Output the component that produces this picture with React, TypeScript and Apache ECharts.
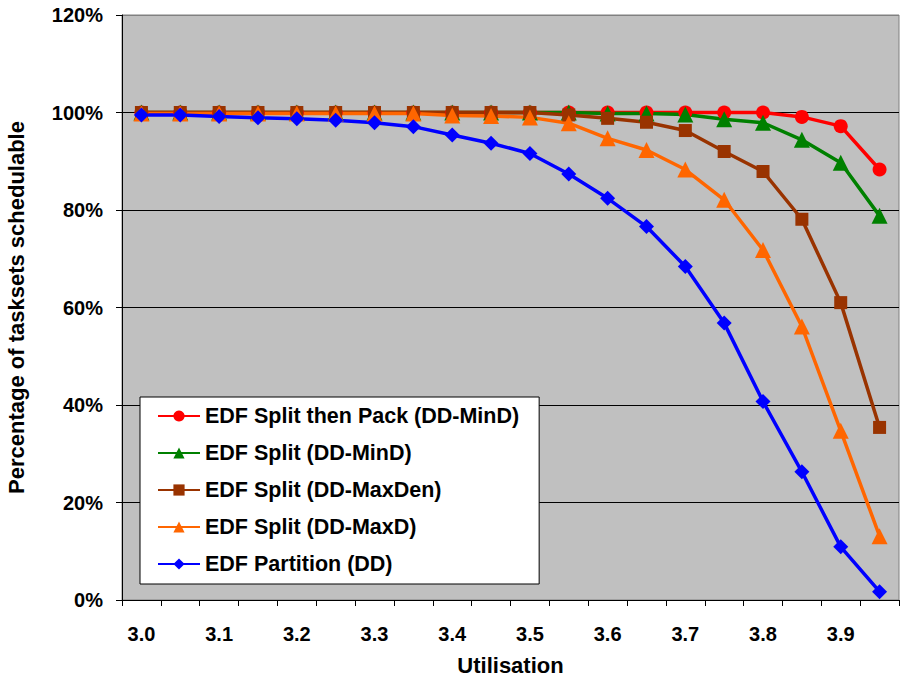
import React, { useEffect, useRef } from "react";
import * as echarts from "echarts";

const categories = ["3.00","3.05","3.10","3.15","3.20","3.25","3.30","3.35","3.40","3.45","3.50","3.55","3.60","3.65","3.70","3.75","3.80","3.85","3.90","3.95"];
const splitThenPack = [100,100,100,100,100,100,100,100,100,100,100,100,100,100,100,100,100,99.1,97.2,88.3];
const splitMinD = [100,100,100,100,100,100,100,100,100,100,100,100,99.8,99.8,99.6,98.6,97.9,94.4,89.7,78.8];
const splitMaxDen = [100,100,100,100,100,100,100,100,100,100,100,99.5,98.8,98.0,96.3,92.0,87.9,78.1,61.0,35.4];
const splitMaxD = [99.8,99.8,99.8,99.8,99.8,99.8,99.8,99.8,99.4,99.3,99.0,97.8,94.7,92.3,88.3,82.1,71.8,56.1,34.7,13.1];
const partition = [99.5,99.5,99.2,98.9,98.7,98.4,97.9,97.1,95.4,93.7,91.6,87.4,82.4,76.6,68.4,56.8,40.7,26.3,10.9,1.7];

const seriesNames = [
  "EDF Split then Pack (DD-MinD)",
  "EDF Split (DD-MinD)",
  "EDF Split (DD-MaxDen)",
  "EDF Split (DD-MaxD)",
  "EDF Partition (DD)",
];

export default function App() {
  const ref = useRef<HTMLDivElement>(null);
  useEffect(() => {
    if (!ref.current) return;
    const chart = echarts.init(ref.current, null, { renderer: "svg" });
    const font = "'Liberation Sans', Arial, sans-serif";
    const mk = (name: string, data: number[], color: string, symbol: string, size: number) => ({
      name,
      type: "line",
      data,
      symbol,
      symbolSize: size,
      showAllSymbol: true,
      lineStyle: { color, width: 3.5 },
      itemStyle: { color },
    });
    chart.setOption({
      animation: false,
      backgroundColor: "#ffffff",
      grid: {
        left: 122, right: 2, top: 15, bottom: 82,
        show: true, backgroundColor: "#c0c0c0", borderWidth: 1, borderColor: "#808080",
        containLabel: false, outerBoundsMode: "none",
      },
      legend: {
        orient: "vertical",
        left: 140,
        top: 397,
        backgroundColor: "#ffffff",
        borderColor: "#000000",
        borderWidth: 1,
        borderRadius: 0,
        padding: [8, 20, 9, 17],
        itemGap: 15,
        itemWidth: 42,
        itemHeight: 14,
        textStyle: { fontFamily: font, fontWeight: "bold", fontSize: 21.5, color: "#000" },
        data: seriesNames,
      },
      xAxis: {
        type: "category",
        data: categories,
        boundaryGap: true,
        name: "Utilisation",
        nameLocation: "middle",
        nameGap: 54,
        nameTextStyle: { fontFamily: font, fontWeight: "bold", fontSize: 22, color: "#000" },
        axisLine: { lineStyle: { color: "#000", width: 1 } },
        axisTick: { show: true, interval: 0, length: 6, lineStyle: { color: "#000" } },
        axisLabel: {
          interval: 1,
          margin: 24,
          fontFamily: font,
          fontWeight: "bold",
          fontSize: 20,
          color: "#000",
          formatter: (v: string) => Number(v).toFixed(1),
        },
        splitLine: { show: false },
      },
      yAxis: {
        type: "value",
        min: 0,
        max: 120,
        interval: 20,
        name: "Percentage of tasksets schedulable",
        nameLocation: "middle",
        nameGap: 95,
        nameTextStyle: { fontFamily: font, fontWeight: "bold", fontSize: 22, color: "#000" },
        axisLine: { show: true, lineStyle: { color: "#000", width: 1 } },
        axisTick: { show: true, length: 6, lineStyle: { color: "#000" } },
        axisLabel: {
          margin: 19,
          fontFamily: font,
          fontWeight: "bold",
          fontSize: 20,
          color: "#000",
          formatter: "{value}%",
        },
        splitLine: {
          show: true,
          lineStyle: { color: ["#000", "#000", "#000", "#000", "#000", "#000", "#808080"], width: 1 },
        },
      },
      series: [
        mk(seriesNames[0], splitThenPack, "#ff0000", "circle", 14),
        mk(seriesNames[1], splitMinD, "#008000", "triangle", 16),
        mk(seriesNames[2], splitMaxDen, "#993300", "rect", 13),
        mk(seriesNames[3], splitMaxD, "#ff6600", "triangle", 16),
        mk(seriesNames[4], partition, "#0000ff", "diamond", 15),
      ],
    });
    return () => chart.dispose();
  }, []);
  return <div ref={ref} style={{ width: 901, height: 682, position: "absolute", left: 0, top: 0 }} />;
}
